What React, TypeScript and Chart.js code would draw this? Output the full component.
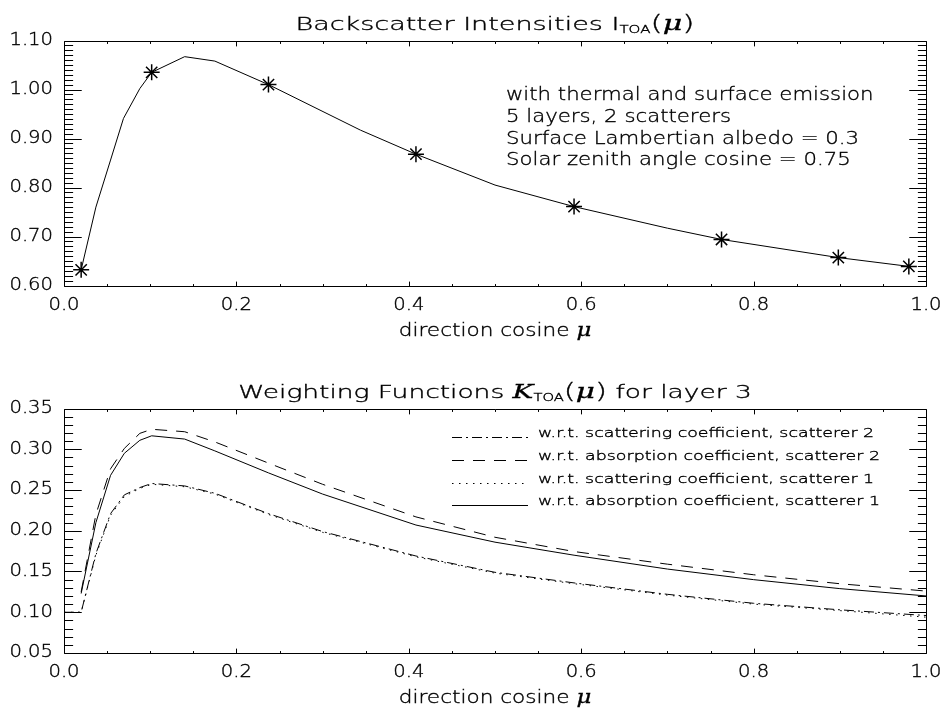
import React, { useEffect, useRef } from "react";
import { Chart, registerables } from "chart.js";

Chart.register(...registerables);

// ---------- data ----------
const topMu = [0.0199, 0.037, 0.054, 0.069, 0.088, 0.1017, 0.14, 0.175, 0.2372, 0.344, 0.4083, 0.5, 0.5917, 0.7, 0.7628, 0.8983, 0.9801];
const topIntensity = [0.632, 0.76, 0.856, 0.941, 1.002, 1.035, 1.067, 1.058, 1.01, 0.917, 0.868, 0.805, 0.761, 0.717, 0.694, 0.657, 0.639];
const gaussMu = [0.0199, 0.1017, 0.2372, 0.4083, 0.5917, 0.7628, 0.8983, 0.9801];
const gaussIntensity = [0.632, 1.035, 1.01, 0.868, 0.761, 0.694, 0.657, 0.639];

const wfMu = [0.0, 0.0199, 0.037, 0.054, 0.07, 0.088, 0.1017, 0.14, 0.175, 0.2372, 0.3, 0.4083, 0.5, 0.5917, 0.7, 0.8, 0.9, 1.0];
const wfScatScat2 = [0.1, 0.1, 0.172, 0.221, 0.244, 0.253, 0.258, 0.255, 0.246, 0.221, 0.199, 0.169, 0.149, 0.136, 0.122, 0.111, 0.103, 0.096];
const wfAbsScat2 = [null, 0.125, 0.22, 0.276, 0.301, 0.3195, 0.3245, 0.3215, 0.309, 0.283, 0.257, 0.217, 0.192, 0.1745, 0.159, 0.146, 0.135, 0.126];
const wfScatScat1 = [0.1, 0.1, 0.17, 0.219, 0.242, 0.252, 0.257, 0.254, 0.245, 0.22, 0.198, 0.168, 0.148, 0.135, 0.121, 0.11, 0.102, 0.094];
const wfAbsScat1 = [null, 0.123, 0.21, 0.268, 0.295, 0.311, 0.3165, 0.3125, 0.298, 0.271, 0.245, 0.207, 0.186, 0.17, 0.153, 0.14, 0.129, 0.12];

const xTickLabels = ["0.0", "0.2", "0.4", "0.6", "0.8", "1.0"];
const topYTickLabels = ["0.60", "0.70", "0.80", "0.90", "1.00", "1.10"];
const bottomYTickLabels = ["0.05", "0.10", "0.15", "0.20", "0.25", "0.30", "0.35"];
const xAxisTitle = "direction cosine ";
const annotationLines = [
  "with thermal and surface emission",
  "5 layers, 2 scatterers",
  "Surface Lambertian albedo = 0.3",
  "Solar zenith angle cosine = 0.75",
];
const legendLabels = [
  "w.r.t. scattering coefficient, scatterer 2",
  "w.r.t. absorption coefficient, scatterer 2",
  "w.r.t. scattering coefficient, scatterer 1",
  "w.r.t. absorption coefficient, scatterer 1",
];

// ---------- styles ----------
const FAMILY = "'DejaVu Sans', 'Liberation Sans', sans-serif";
const DASH_DOT = [10, 4, 2, 4];
const DASHED = [12, 9];
const DOTTED = [1.5, 5.5];
const normal = (s: number) => `200 ${s}px ${FAMILY}`;
const italic = (s: number) => `italic ${s}px 'DejaVu Serif', 'Liberation Serif', serif`;

const pts = (xs: number[], ys: (number | null)[]) =>
  xs.map((x, i) => (ys[i] == null ? null : { x, y: ys[i] as number })).filter(Boolean) as { x: number; y: number }[];

function ink(ctx: CanvasRenderingContext2D, t: string, x: number, y: number) {
  ctx.fillText(t, x, y);
  ctx.strokeText(t, x, y);
}

function drawStretched(
  ctx: CanvasRenderingContext2D,
  t: string,
  x: number,
  y: number,
  font: string,
  stretch: number,
  align: CanvasTextAlign,
  baseline: CanvasTextBaseline
) {
  ctx.save();
  ctx.font = font;
  ctx.textAlign = align;
  ctx.textBaseline = baseline;
  ctx.translate(x, y);
  ctx.scale(stretch, 1);
  ink(ctx, t, 0, 0);
  ctx.restore();
}

type Part = { t: string; font: string; dy?: number };
function drawRich(ctx: CanvasRenderingContext2D, parts: Part[], cx: number, baseline: number, stretch: number) {
  let total = 0;
  for (const p of parts) {
    ctx.font = p.font;
    total += ctx.measureText(p.t).width;
  }
  ctx.save();
  ctx.translate(cx - (total * stretch) / 2, baseline);
  ctx.scale(stretch, 1);
  ctx.textBaseline = "alphabetic";
  ctx.textAlign = "left";
  let x = 0;
  for (const p of parts) {
    ctx.font = p.font;
    ink(ctx, p.t, x, p.dy || 0);
    x += ctx.measureText(p.t).width;
  }
  ctx.restore();
}

function axesPlugin(yMajor: number, yMinor: number, yLabels: string[]) {
  return {
    id: "idlAxes",
    afterDraw(chart: any) {
      const { ctx, chartArea: a, scales } = chart;
      const x = scales.x;
      const y = scales.y;
      const L = Math.round(a.left) + 0.5;
      const R = Math.round(a.right) + 0.5;
      const T = Math.round(a.top) + 0.5;
      const B = Math.round(a.bottom) + 0.5;
      ctx.save();
      ctx.strokeStyle = "#000";
      ctx.fillStyle = "#000";
      ctx.lineWidth = 1;
      ctx.setLineDash([]);
      ctx.beginPath();
      ctx.rect(L, T, R - L, B - T);
      const xMajLen = (B - T) * 0.02;
      for (let i = 0; i <= 20; i++) {
        const px = Math.round(x.getPixelForValue(i * 0.05)) + 0.5;
        const len = i % 4 === 0 ? xMajLen : xMajLen / 2;
        ctx.moveTo(px, B);
        ctx.lineTo(px, B - len);
        ctx.moveTo(px, T);
        ctx.lineTo(px, T + len);
      }
      const yMajLen = (R - L) * 0.02;
      const n = Math.round((y.max - y.min) / yMinor);
      const per = Math.round(yMajor / yMinor);
      for (let i = 0; i <= n; i++) {
        const py = Math.round(y.getPixelForValue(y.min + i * yMinor)) + 0.5;
        const len = i % per === 0 ? yMajLen : yMajLen / 2;
        ctx.moveTo(L, py);
        ctx.lineTo(L + len, py);
        ctx.moveTo(R, py);
        ctx.lineTo(R - len, py);
      }
      ctx.stroke();

      ctx.lineWidth = 0.35;
      const tf = normal(17);
      x.ticks.forEach((t: any, i: number) => {
        drawStretched(ctx, xTickLabels[i] ?? "", x.getPixelForValue(t.value), a.bottom + 20, tf, 1.15, "center", "middle");
      });
      y.ticks.forEach((t: any, i: number) => {
        drawStretched(ctx, yLabels[i] ?? "", a.left - 11, y.getPixelForValue(t.value), tf, 1.15, "right", "middle");
      });
      drawRich(
        ctx,
        [
          { t: xAxisTitle, font: normal(17) },
          { t: "μ", font: italic(18) },
        ],
        (a.left + a.right) / 2,
        a.bottom + 50,
        1.27
      );
      ctx.restore();
    },
  };
}

const topTextPlugin = {
  id: "topText",
  afterDraw(chart: any) {
    const { ctx, chartArea: a } = chart;
    ctx.save();
    ctx.fillStyle = "#000";
    ctx.strokeStyle = "#000";
    ctx.lineWidth = 0.35;
    drawRich(
      ctx,
      [
        { t: "Backscatter Intensities I", font: normal(18) },
        { t: "TOA", font: normal(10), dy: 3 },
        { t: "(", font: normal(21) },
        { t: "μ", font: italic(20) },
        { t: ")", font: normal(21) },
      ],
      (a.left + a.right) / 2,
      30,
      1.5
    );
    annotationLines.forEach((line, i) =>
      drawStretched(ctx, line, 506, 100 + i * 21.8, normal(18), 1.18, "left", "alphabetic")
    );
    ctx.restore();
  },
};

const bottomTextPlugin = {
  id: "bottomText",
  afterDraw(chart: any) {
    const { ctx, chartArea: a } = chart;
    ctx.save();
    ctx.fillStyle = "#000";
    ctx.strokeStyle = "#000";
    ctx.lineWidth = 0.35;
    drawRich(
      ctx,
      [
        { t: "Weighting Functions ", font: normal(18) },
        { t: "K", font: italic(19) },
        { t: "TOA", font: normal(10), dy: 3 },
        { t: "(", font: normal(21) },
        { t: "μ", font: italic(20) },
        { t: ")", font: normal(21) },
        { t: " for layer 3", font: normal(18) },
      ],
      (a.left + a.right) / 2,
      41,
      1.47
    );
    const dashes = [DASH_DOT, DASHED, DOTTED, []];
    const lf = normal(12.5);
    ctx.font = lf;
    const stretch = 342 / ctx.measureText(legendLabels[1]).width;
    legendLabels.forEach((lab, i) => {
      const by = 80 + i * 22.8;
      ctx.lineWidth = 1;
      ctx.setLineDash(dashes[i]);
      ctx.beginPath();
      ctx.moveTo(452, Math.round(by) + 0.5);
      ctx.lineTo(528, Math.round(by) + 0.5);
      ctx.stroke();
      ctx.setLineDash([]);
      ctx.lineWidth = 0.35;
      drawStretched(ctx, lab, 538, by, lf, stretch, "left", "alphabetic");
    });
    ctx.restore();
  },
};

function xScale(height: number) {
  return {
    type: "linear" as const,
    min: 0,
    max: 1,
    afterFit: (s: any) => {
      s.height = height;
    },
    grid: { display: false, drawTicks: false },
    border: { display: false },
    ticks: { stepSize: 0.2, display: false },
  };
}

function yScale(min: number, max: number, step: number) {
  return {
    type: "linear" as const,
    min,
    max,
    afterFit: (s: any) => {
      s.width = 64;
    },
    grid: { display: false, drawTicks: false },
    border: { display: false },
    ticks: { stepSize: step, display: false },
  };
}

function TopChart() {
  const ref = useRef<HTMLCanvasElement>(null);
  useEffect(() => {
    const chart = new Chart(ref.current as HTMLCanvasElement, {
      type: "scatter",
      data: {
        datasets: [
          {
            data: pts(topMu, topIntensity),
            showLine: true,
            borderColor: "#000",
            borderWidth: 1,
            pointRadius: 0,
            tension: 0,
          },
          {
            data: pts(gaussMu, gaussIntensity),
            showLine: false,
            pointStyle: "star",
            pointRadius: 8,
            pointBorderColor: "#000",
            pointBorderWidth: 1.5,
            pointBackgroundColor: "transparent",
          },
        ],
      },
      options: {
        responsive: false,
        animation: false,
        devicePixelRatio: 1,
        layout: { padding: { top: 40.5, right: 17, left: 0, bottom: 0 } },
        plugins: { legend: { display: false }, tooltip: { enabled: false } },
        scales: { x: xScale(71.5) as any, y: yScale(0.6, 1.1, 0.1) as any },
      },
      plugins: [axesPlugin(0.1, 0.01, topYTickLabels), topTextPlugin],
    });
    return () => chart.destroy();
  }, []);
  return <canvas ref={ref} width={943} height={357} style={{ position: "absolute", left: 0, top: 0 }} />;
}

function BottomChart() {
  const ref = useRef<HTMLCanvasElement>(null);
  useEffect(() => {
    const line = (ys: (number | null)[], dash: number[]) => ({
      data: pts(wfMu, ys),
      showLine: true,
      borderColor: "#000",
      borderWidth: 1,
      borderDash: dash,
      pointRadius: 0,
      tension: 0,
    });
    const chart = new Chart(ref.current as HTMLCanvasElement, {
      type: "scatter",
      data: {
        datasets: [
          line(wfScatScat2, DASH_DOT),
          line(wfAbsScat2, DASHED),
          line(wfScatScat1, DOTTED),
          line(wfAbsScat1, []),
        ],
      },
      options: {
        responsive: false,
        animation: false,
        devicePixelRatio: 1,
        layout: { padding: { top: 51.5, right: 17, left: 0, bottom: 0 } },
        plugins: { legend: { display: false }, tooltip: { enabled: false } },
        scales: { x: xScale(62) as any, y: yScale(0.05, 0.35, 0.05) as any },
      },
      plugins: [axesPlugin(0.05, 0.01, bottomYTickLabels), bottomTextPlugin],
    });
    return () => chart.destroy();
  }, []);
  return <canvas ref={ref} width={943} height={358} style={{ position: "absolute", left: 0, top: 357 }} />;
}

export default function App() {
  return (
    <div style={{ position: "absolute", left: 0, top: 0, width: 943, height: 715, background: "#fff" }}>
      <TopChart />
      <BottomChart />
    </div>
  );
}
